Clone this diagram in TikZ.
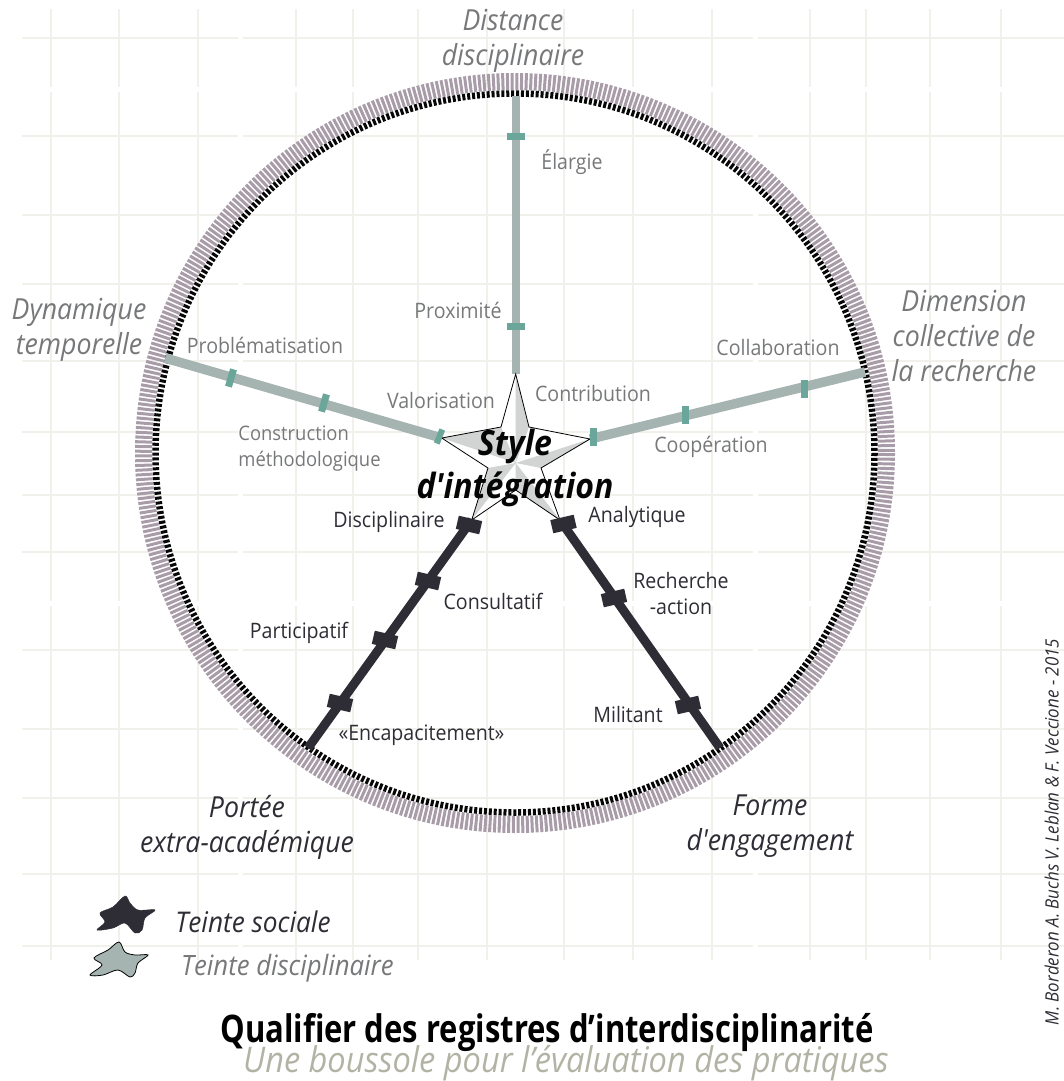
\documentclass[tikz,border=0pt]{standalone}
\usepackage{fontspec}
\setmainfont[FakeStretch=0.92]{Open Sans}
\newfontfamily\plainapos[FakeStretch=0.92]{Open Sans}
\newfontfamily\titlefont[FakeStretch=0.816]{Open Sans}
\definecolor{gridc}{HTML}{F1F0EB}
\definecolor{ringc}{HTML}{A99CA9}
\definecolor{inkdark}{HTML}{2E2D35}
\definecolor{sagec}{HTML}{A5B4B0}
\definecolor{tealc}{HTML}{6AA79A}
\definecolor{labelc}{HTML}{77787A}
\definecolor{facetc}{HTML}{D2D4D4}
\definecolor{subc}{HTML}{B3B3A5}
\tikzset{
  x=1pt,y=-1pt,
  gridline/.style={gridc,line width=1.1pt},
  sagespoke/.style={sagec,line width=9.5pt},
  sagespokev/.style={sagec,line width=8.3pt},
  darkspoke/.style={inkdark,line width=9pt},
  sagetick/.style={fill=tealc,draw=none,inner sep=0pt,minimum width=7pt,minimum height=18pt},
  darktick/.style={fill=inkdark,draw=none,inner sep=0pt,minimum width=24pt,minimum height=13.5pt},
  lab/.style={inner sep=0pt,font=\fontsize{21.3}{26}\selectfont,align=center},
  sagelab/.style={lab,text=labelc},
  darklab/.style={lab,text=inkdark},
  axislab/.style={inner sep=0pt,align=center,font=\fontsize{29}{35}\selectfont\itshape},
}
\begin{document}
\begin{tikzpicture}
\useasboundingbox (0,0) rectangle (1064,1081);
% grid
\foreach \gx in {51,119,198,296,353,418,487,564,633,712,810,866,930,1001}{
  \draw[gridline] (\gx,9) -- (\gx,87) (\gx,92) -- (\gx,601) (\gx,606) -- (\gx,960);
}
\foreach \gy in {38,136,215,284,361,432,495,552,650,729,798,874,946}{
  \draw[gridline] (22,\gy) -- (238,\gy) (243,\gy) -- (753,\gy) (758,\gy) -- (1064,\gy);
}
% ring
\coordinate (ctr) at (515,453);
\draw[ringc,line width=17pt,dash pattern=on 3pt off 1.67pt] (ctr) circle[radius=371.5];
\draw[black!85!inkdark,line width=6.5pt,dash pattern=on 3pt off 1.9pt] (ctr) circle[radius=359.5];
% spoke ends
\coordinate (topout) at (515.7,96);
\coordinate (rightout) at (865,372);
\coordinate (leftout) at (165,358);
\coordinate (llout) at (308,748);
\coordinate (lrout) at (720,748);
% star points
\coordinate (c) at (515.7,463);
\coordinate (t1) at (515.7,374);
\coordinate (i1) at (529,427);
\coordinate (t2) at (590,439);
\coordinate (i2) at (541,468);
\coordinate (t3) at (560,520);
\coordinate (i3) at (515.7,490);
\coordinate (t4) at (471.7,520);
\coordinate (i4) at (488,468);
\coordinate (t5) at (441.7,438);
\coordinate (i5) at (501,427);
% spokes
\draw[sagespokev] (topout) -- (t1);
\draw[sagespoke] (rightout) -- (t2);
\draw[sagespoke] (leftout) -- (t5);
\draw[darkspoke] (llout) -- (t4);
\draw[darkspoke] (lrout) -- (t3);
% star
\fill[white] (t1) -- (i1) -- (t2) -- (i2) -- (t3) -- (i3) -- (t4) -- (i4) -- (t5) -- (i5) -- cycle;
\fill[facetc] (t1) -- (i1) -- (c) -- cycle (t2) -- (i2) -- (c) -- cycle (t3) -- (i3) -- (c) -- cycle
  (t4) -- (i4) -- (c) -- cycle (t5) -- (i5) -- (c) -- cycle;
\draw[black,line width=0.8pt,line join=miter] (t1) -- (i1) -- (t2) -- (i2) -- (t3) -- (i3) -- (t4) -- (i4) -- (t5) -- (i5) -- cycle;
% ticks
\node[sagetick,rotate=90] (ta) at (515.7,136) {};
\node[sagetick,rotate=90] (tb) at (515.7,326) {};
\node[sagetick,rotate=0] (tc) at (804,389) {};
\node[sagetick,rotate=0] (td) at (685,415) {};
\node[sagetick,rotate=0] (te) at (593,437) {};
\node[sagetick,rotate=-16] (tf) at (231,378) {};
\node[sagetick,rotate=-16] (tg) at (324,403) {};
\node[sagetick,rotate=-22,minimum height=15pt,minimum width=6pt] (th) at (439.5,436.5) {};
\node[darktick,rotate=-13] (da) at (469,525) {};
\node[darktick,rotate=-13] (db) at (428,581) {};
\node[darktick,rotate=-13] (dc) at (385,640) {};
\node[darktick,rotate=-13] (dd) at (340,703) {};
\node[darktick,rotate=13] (de) at (563.5,524) {};
\node[darktick,rotate=13] (df) at (614,598) {};
\node[darktick,rotate=13] (dg) at (688,705) {};
% spoke labels
\node[sagelab] (l1) at (572,162) {Élargie};
\node[sagelab] (l2) at (458,310.5) {Proximité};
\node[sagelab] (l3) at (593,393.5) {Contribution};
\node[sagelab] (l4) at (441,400.5) {Valorisation};
\node[sagelab] (l5) at (265,345.5) {Problématisation};
\node[sagelab,align=left,font=\fontsize{20}{26}\selectfont] (l6) at (309.5,448.5) {Construction\\méthodologique};
\node[sagelab] (l7) at (778,347.5) {Collaboration};
\node[sagelab] (l8) at (711,447) {Coopération};
\node[darklab] (l9) at (389,522) {Disciplinaire};
\node[darklab] (l10) at (637,517) {Analytique};
\node[darklab] (l11) at (493,601.5) {Consultatif};
\node[darklab,font=\fontsize{21.3}{26}\selectfont] (l12) at (681,594) {Recherche\\-action};
\node[darklab] (l13) at (299,633) {Participatif};
\node[darklab] (l14) at (628,714.5) {Militant};
\node[darklab] (l15) at (421.5,735) {«Encapacitement»};
% axis labels
\node[axislab,text=labelc] (a1) at (513,41) {Distance\\disciplinaire};
\node[axislab,text=labelc] (a2) at (964,336) {Dimension\\collective de\\la recherche};
\node[axislab,text=labelc] (a3) at (79,330) {Dynamique\\temporelle};
\node[axislab,text=inkdark] (a4) at (247,827) {Portée\\extra-académique};
\node[axislab,text=inkdark,font=\fontsize{29}{35}\selectfont\plainapos\itshape] (a5) at (770,826) {Forme\\d'engagement};
\node[inner sep=0pt,align=center,text=black!90!inkdark,font=\fontsize{34.8}{43}\selectfont\plainapos\bfseries\itshape] (hub) at (515,467.5) {Style\\d'intégration};
% legend
\draw[fill=inkdark,draw=inkdark,line width=0.5pt] plot[smooth cycle,tension=0.55] coordinates {
 (125,896) (130,903) (138,910) (155,910) (145,918) (142,930) (135,933) (125,923) (113,928) (97,930) (105,922) (100,913) (113,907)};
\draw[fill=sagec,draw=black,line width=0.8pt] plot[smooth cycle,tension=0.55] coordinates {
 (119,942) (125,952) (135,955) (148,955) (138,963) (135,973) (130,977) (118,970) (103,975) (90,975) (102,965) (94,958) (108,950)};
\node[inner sep=0pt,text=inkdark,font=\fontsize{28.5}{30}\selectfont\itshape] (k1) at (253,922) {Teinte sociale};
\node[inner sep=0pt,text=labelc,font=\fontsize{28}{30}\selectfont\itshape] (k2) at (287.5,968) {Teinte disciplinaire};
% title
\node[inner sep=0pt,text=black,font=\fontsize{38}{40}\selectfont\titlefont\bfseries] (ti) at (547,1032) {Qualifier des registres d’interdisciplinarité};
\node[inner sep=0pt,text=subc,font=\fontsize{35.4}{40}\selectfont\itshape] (st) at (566,1063) {Une boussole pour l’évaluation des pratiques};
% credit
\node[inner sep=0pt,rotate=90,anchor=base,text=inkdark,font=\fontsize{18.4}{20}\selectfont\itshape] (cr) at (1058.5,832) {M. Borderon A. Buchs V. Leblan \& F. Veccione - 2015};
\end{tikzpicture}
\end{document}
